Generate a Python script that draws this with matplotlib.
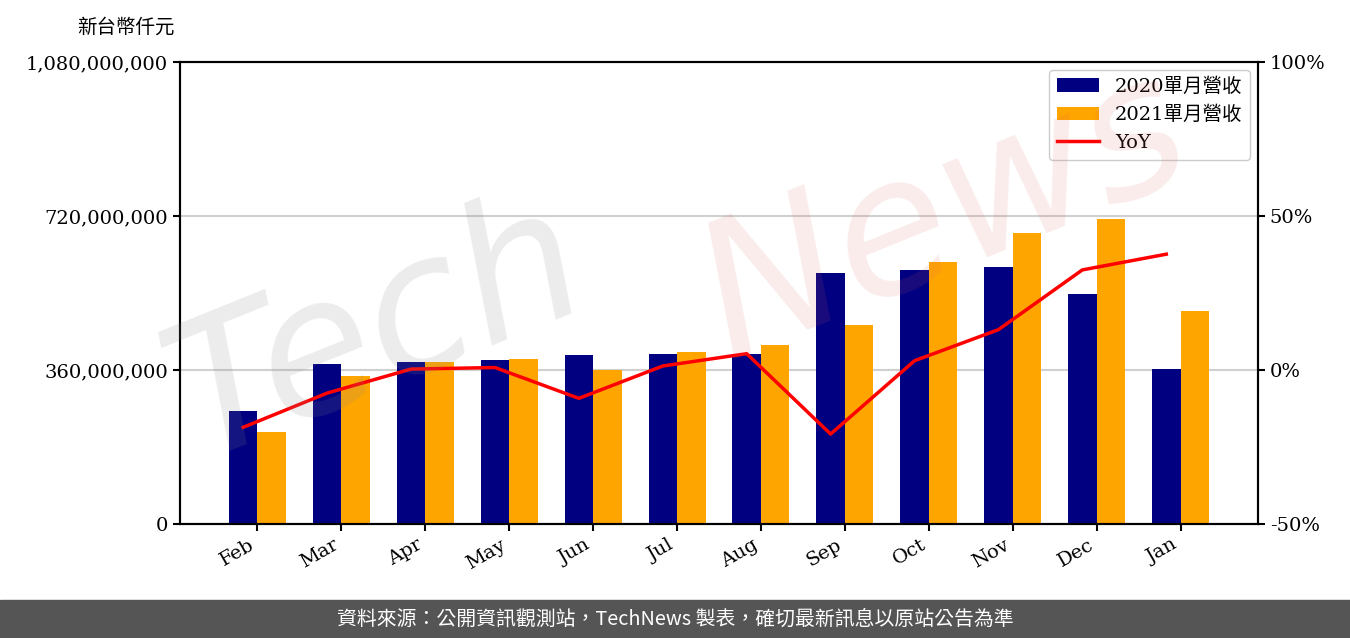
import numpy as np
import matplotlib
matplotlib.use("Agg")
import matplotlib.pyplot as plt
from matplotlib.ticker import FuncFormatter
from matplotlib.patches import Rectangle

plt.rcParams['font.family'] = ['DejaVu Serif', 'Noto Sans CJK TC']

months = ['Feb', 'Mar', 'Apr', 'May', 'Jun', 'Jul', 'Aug', 'Sep', 'Oct', 'Nov', 'Dec', 'Jan']
rev_2020 = [264e6, 374e6, 379e6, 383e6, 395e6, 397e6, 397e6, 587e6, 594e6, 601e6, 538e6, 362e6]
rev_2021 = [215e6, 346e6, 379e6, 386e6, 360e6, 402e6, 418e6, 465e6, 612e6, 680e6, 713e6, 498e6]
yoy = [-18.6, -7.5, 0.3, 0.8, -9.2, 1.3, 5.3, -20.8, 3.0, 13.1, 32.5, 37.6]

fig = plt.figure(figsize=(13.5, 6.38), dpi=100)
ax = fig.add_axes([0.1333, 0.1787, 0.7986, 0.7241])
ax2 = ax.twinx()

x = np.arange(len(months))
w = 0.34
ax.bar(x - w / 2, rev_2020, w, color='#000080', label='2020單月營收', zorder=2)
ax.bar(x + w / 2, rev_2021, w, color='#FFA500', label='2021單月營收', zorder=2)
ax2.plot(x - w / 2, yoy, color='red', lw=2.5, label='YoY')

ax.set_ylim(0, 1080e6)
ax.set_yticks([0, 360e6, 720e6, 1080e6])
ax.yaxis.set_major_formatter(FuncFormatter(lambda v, p: f'{int(v):,}'))
ax.grid(axis='y', color='#d0d0d0', lw=1.5, zorder=0)
ax.set_axisbelow(True)
ax.set_xticks(x)
ax.set_xticklabels(months, rotation=30, ha='right')
ax.tick_params(labelsize=14, width=1.5, length=5)

ax2.set_ylim(-50, 100)
ax2.set_yticks([-50, 0, 50, 100])
ax2.yaxis.set_major_formatter(FuncFormatter(lambda v, p: f'{int(v)}%'))
ax2.tick_params(labelsize=14, width=1.5, length=5)

for a in (ax, ax2):
    for s in a.spines.values():
        s.set_linewidth(1.5)

h1, l1 = ax.get_legend_handles_labels()
h2, l2 = ax2.get_legend_handles_labels()
ax2.legend(h1 + h2, l1 + l2, loc='upper right', fontsize=14, framealpha=1,
           edgecolor='#cccccc', handlelength=2.2, borderaxespad=0.4)

fig.text(0.057, 0.957, '新台幣仟元', fontsize=14, family=['Noto Sans CJK TC'],
         va='center')

# watermark
fig.text(0.28, 0.48, 'Tech', fontsize=135, color='#888888', alpha=0.16,
         rotation=22, ha='center', va='center', style='italic', zorder=10,
         family='DejaVu Sans')
fig.text(0.70, 0.66, 'News', fontsize=135, color='#e06060', alpha=0.12,
         rotation=22, ha='center', va='center', style='italic', zorder=10,
         family='DejaVu Sans')

# footer banner
fig.patches.append(Rectangle((0, 0), 1, 38 / 638, transform=fig.transFigure,
                             color='#555555', zorder=0))
fig.text(0.5, 19 / 638, '資料來源：公開資訊觀測站，TechNews 製表，確切最新訊息以原站公告為準',
         color='white', fontsize=14.3, ha='center', va='center',
         family=['Noto Sans CJK TC', 'DejaVu Sans'])

fig.savefig('out.png', dpi=100)
